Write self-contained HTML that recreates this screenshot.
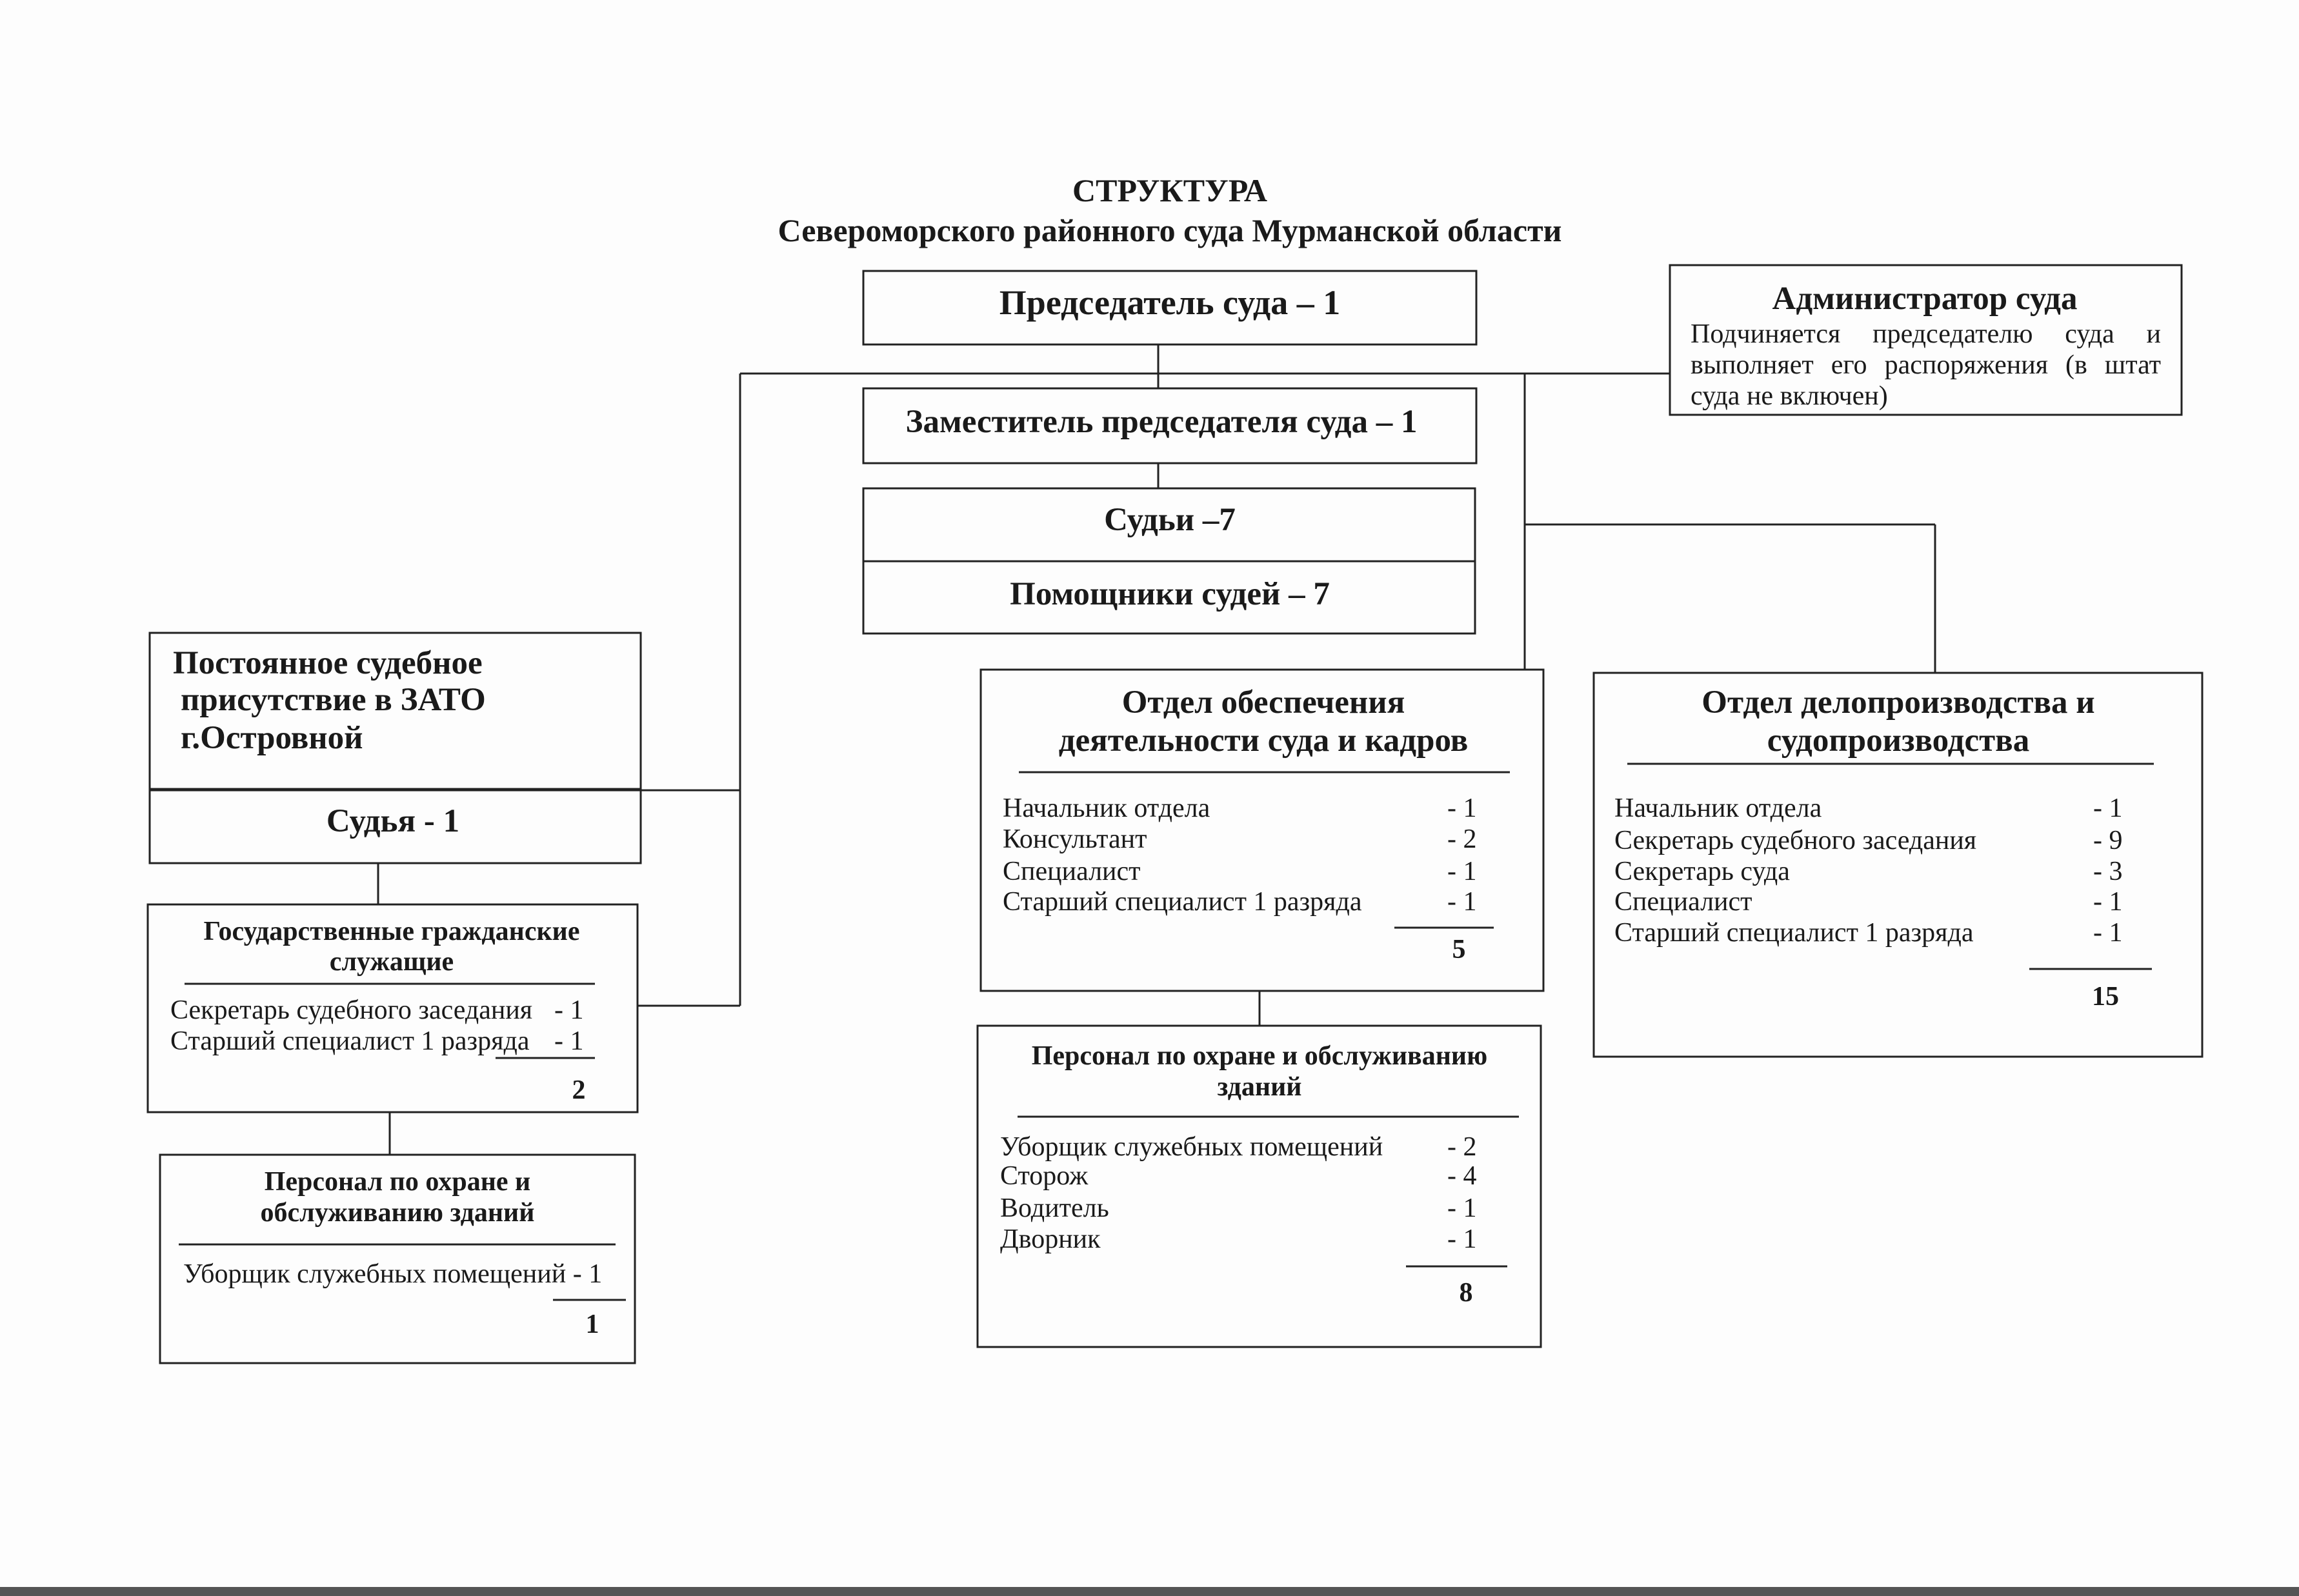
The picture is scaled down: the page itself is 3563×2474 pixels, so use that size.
<!DOCTYPE html>
<html><head><meta charset="utf-8"><style>
html,body{margin:0;padding:0;background:#fff}
svg{display:block}
text{font-family:"Liberation Serif",serif;fill:#1a1a1a}
.b{font-weight:bold}
#adm{position:absolute;left:2620px;top:494px;width:729px;font-family:"Liberation Serif",serif;font-size:42px;line-height:48px;text-align:justify;color:#1a1a1a}
</style></head><body>
<svg width="3563" height="2474" viewBox="0 0 3563 2474" xmlns="http://www.w3.org/2000/svg">
<rect width="3563" height="2474" fill="#fdfdfd"/>
<rect x="0" y="2460" width="3563" height="14" fill="#555"/>
<g fill="none" stroke="#222" stroke-width="3">
<rect x="1338" y="420" width="950" height="114"/>
<rect x="2588" y="411" width="793" height="232"/>
<rect x="1338" y="602" width="950" height="116"/>
<rect x="1338" y="757" width="948" height="225"/>
<line x1="1338" y1="870" x2="2286" y2="870"/>
<rect x="232" y="981" width="761" height="357"/>
<line x1="232" y1="1224" x2="993" y2="1224" stroke-width="5"/>
<rect x="229" y="1402" width="759" height="322"/>
<rect x="248" y="1790" width="736" height="323"/>
<rect x="1520" y="1038" width="872" height="498"/>
<rect x="1515" y="1590" width="873" height="498"/>
<rect x="2470" y="1043" width="943" height="595"/>
<line x1="1147" y1="579" x2="2588" y2="579"/>
<line x1="1795" y1="534" x2="1795" y2="602"/>
<line x1="1795" y1="718" x2="1795" y2="757"/>
<line x1="2363" y1="579" x2="2363" y2="1038"/>
<line x1="2363" y1="813" x2="2999" y2="813"/>
<line x1="2999" y1="813" x2="2999" y2="1043"/>
<line x1="1147" y1="579" x2="1147" y2="1559"/>
<line x1="993" y1="1225" x2="1147" y2="1225"/>
<line x1="988" y1="1559" x2="1147" y2="1559"/>
<line x1="586" y1="1338" x2="586" y2="1402"/>
<line x1="604" y1="1724" x2="604" y2="1790"/>
<line x1="1952" y1="1536" x2="1952" y2="1590"/>
<line x1="286" y1="1525" x2="922" y2="1525"/>
<line x1="768" y1="1640" x2="922" y2="1640"/>
<line x1="277" y1="1929" x2="954" y2="1929"/>
<line x1="857" y1="2015" x2="970" y2="2015"/>
<line x1="1579" y1="1197" x2="2340" y2="1197"/>
<line x1="2161" y1="1438" x2="2315" y2="1438"/>
<line x1="1577" y1="1731" x2="2354" y2="1731"/>
<line x1="2179" y1="1963" x2="2336" y2="1963"/>
<line x1="2522" y1="1184" x2="3338" y2="1184"/>
<line x1="3145" y1="1502" x2="3335" y2="1502"/>
</g>
<g text-anchor="middle" class="b">
<text x="1813" y="312" font-size="50">СТРУКТУРА</text>
<text x="1813" y="374" font-size="50">Североморского районного суда Мурманской области</text>
</g>
<g text-anchor="middle" class="b" font-size="51">
<text x="1813" y="487" font-size="54">Председатель суда – 1</text>
<text x="1800" y="670">Заместитель председателя суда – 1</text>
<text x="1813" y="822">Судьи –7</text>
<text x="1813" y="937">Помощники судей – 7</text>
<text x="2983" y="479">Администратор суда</text>
<text x="609" y="1289">Судья - 1</text>
<text x="1958" y="1105">Отдел обеспечения</text>
<text x="1958" y="1164">деятельности суда и кадров</text>
<text x="2942" y="1105">Отдел делопроизводства и</text>
<text x="2942" y="1164">судопроизводства</text>
</g>
<g class="b" font-size="51">
<text x="268" y="1044">Постоянное судебное</text>
<text x="280" y="1101">присутствие в ЗАТО</text>
<text x="280" y="1160">г.Островной</text>
</g>
<g text-anchor="middle" class="b" font-size="42">
<text x="607" y="1457">Государственные гражданские</text>
<text x="607" y="1504">служащие</text>
<text x="616" y="1845">Персонал по охране и</text>
<text x="616" y="1893">обслуживанию зданий</text>
<text x="1952" y="1650">Персонал по охране и обслуживанию</text>
<text x="1952" y="1698">зданий</text>
<text x="897" y="1703">2</text>
<text x="918" y="2066">1</text>
<text x="2261" y="1485">5</text>
<text x="2272" y="2017">8</text>
<text x="3263" y="1558">15</text>
</g>
<g font-size="42">
<text x="264" y="1579">Секретарь судебного заседания</text><text x="859" y="1579">- 1</text>
<text x="264" y="1627">Старший специалист 1 разряда</text><text x="859" y="1627">- 1</text>
<text x="284" y="1988">Уборщик служебных помещений - 1</text>
<text x="1554" y="1266">Начальник отдела</text><text x="2243" y="1266">- 1</text>
<text x="1554" y="1314">Консультант</text><text x="2243" y="1314">- 2</text>
<text x="1554" y="1364">Специалист</text><text x="2243" y="1364">- 1</text>
<text x="1554" y="1411">Старший специалист 1 разряда</text><text x="2243" y="1411">- 1</text>
<text x="1550" y="1791">Уборщик служебных помещений</text><text x="2243" y="1791">- 2</text>
<text x="1550" y="1836">Сторож</text><text x="2243" y="1836">- 4</text>
<text x="1550" y="1886">Водитель</text><text x="2243" y="1886">- 1</text>
<text x="1550" y="1934">Дворник</text><text x="2243" y="1934">- 1</text>
<text x="2502" y="1266">Начальник отдела</text><text x="3244" y="1266">- 1</text>
<text x="2502" y="1316">Секретарь судебного заседания</text><text x="3244" y="1316">- 9</text>
<text x="2502" y="1364">Секретарь суда</text><text x="3244" y="1364">- 3</text>
<text x="2502" y="1411">Специалист</text><text x="3244" y="1411">- 1</text>
<text x="2502" y="1459">Старший специалист 1 разряда</text><text x="3244" y="1459">- 1</text>
</g>
</svg>
<div id="adm">Подчиняется председателю суда и выполняет его распоряжения (в штат суда не включен)</div>
</body></html>
